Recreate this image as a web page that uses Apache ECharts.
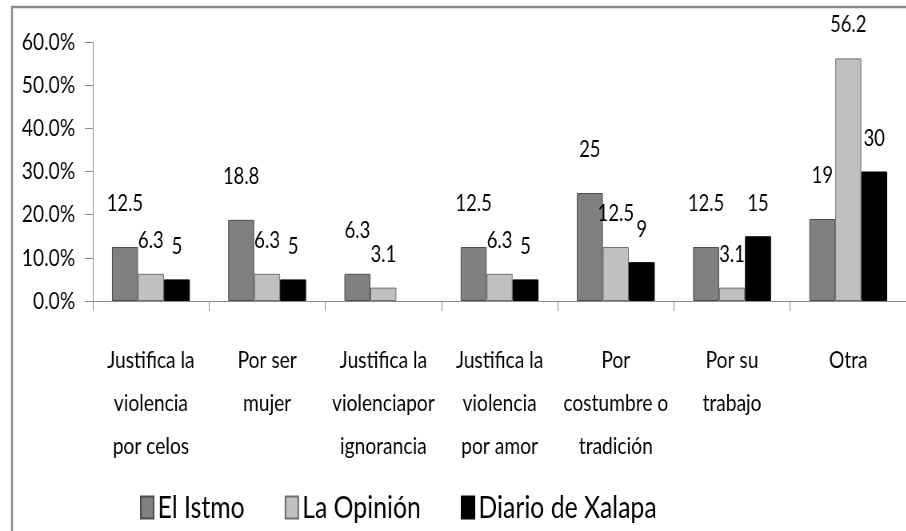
<!DOCTYPE html>
<html>
<head>
<meta charset="utf-8">
<script src="https://cdn.jsdelivr.net/npm/echarts@6/dist/echarts.min.js"></script>
<style>
  html, body { margin: 0; padding: 0; background: #fff; overflow: hidden; }
  /* el original está comprimido en horizontal: se dibuja más ancho y se estrecha */
  #chart { width: 1133px; height: 531px; transform: scaleX(0.8); transform-origin: 0 0; }
</style>
</head>
<body>
<div id="chart"></div>
<script>
// categorías del eje x (con los saltos de línea del original)
const categories = [
  'Justifica la\nviolencia\npor celos',
  'Por ser\nmujer',
  'Justifica la\nviolenciapor\nignorancia',
  'Justifica la\nviolencia\npor amor',
  'Por\ncostumbre o\ntradición',
  'Por su\ntrabajo',
  'Otra'
]
const seriesNames = ['El Istmo', 'La Opinión', 'Diario de Xalapa']
const elIstmo = [12.5, 18.8, 6.3, 12.5, 25, 12.5, 19]
const laOpinion = [6.3, 6.3, 3.1, 6.3, 12.5, 3.1, 56.2]
const diarioXalapa = [5, 5, null, 5, 9, 15, 30]
const yTicks = { min: 0, max: 60, interval: 10 }

const font = 'Lato, sans-serif'

function barSeries (name, data, color, border, dist) {
  return {
    name: name,
    type: 'bar',
    data: data,
    barGap: '0%',
    barCategoryGap: '33%',
    itemStyle: {
      color: color,
      borderColor: border,
      borderWidth: 1
    },
    label: {
      show: true,
      position: 'top',
      distance: dist,
      color: '#000',
      fontFamily: font,
      fontSize: 23
    }
  }
}

const chart = echarts.init(document.getElementById('chart'))
chart.setOption({
  animation: false,
  textStyle: { fontFamily: font },
  graphic: [
    {
      type: 'rect',
      shape: { x: 15, y: 7, width: 1150, height: 540 },
      style: { fill: 'none', stroke: '#8a8a8a', lineWidth: 2.4 },
      silent: true
    }
  ],
  grid: {
    left: 116,
    right: -10,
    top: 42,
    bottom: 230
  },
  legend: {
    data: seriesNames,
    icon: 'rect',
    left: 170,
    top: 487,
    itemGap: 50,
    itemWidth: 16,
    itemHeight: 22,
    textStyle: {
      fontFamily: font,
      fontSize: 31,
      color: '#000'
    }
  },
  xAxis: {
    type: 'category',
    data: categories,
    axisLine: { lineStyle: { color: '#8c8c8c' } },
    axisTick: { show: true, length: 10, lineStyle: { color: '#8c8c8c' } },
    axisLabel: {
      interval: 0,
      margin: 38,
      color: '#000',
      fontFamily: font,
      fontSize: 24,
      lineHeight: 43
    }
  },
  yAxis: {
    type: 'value',
    min: yTicks.min,
    max: yTicks.max,
    interval: yTicks.interval,
    splitLine: { show: false },
    axisLine: { show: true, lineStyle: { color: '#8c8c8c' } },
    axisTick: { show: true, length: 10, lineStyle: { color: '#8c8c8c' } },
    axisLabel: {
      margin: 22,
      color: '#000',
      fontFamily: font,
      fontSize: 24,
      formatter: v => v.toFixed(1) + '%'
    }
  },
  series: [
    barSeries(seriesNames[0], elIstmo, '#808080', '#4a4a4a', 32),
    barSeries(seriesNames[1], laOpinion, '#c0c0c0', '#6e6e6e', 22),
    barSeries(seriesNames[2], diarioXalapa, '#000000', '#000000', 21)
  ]
})
</script>
</body>
</html>
